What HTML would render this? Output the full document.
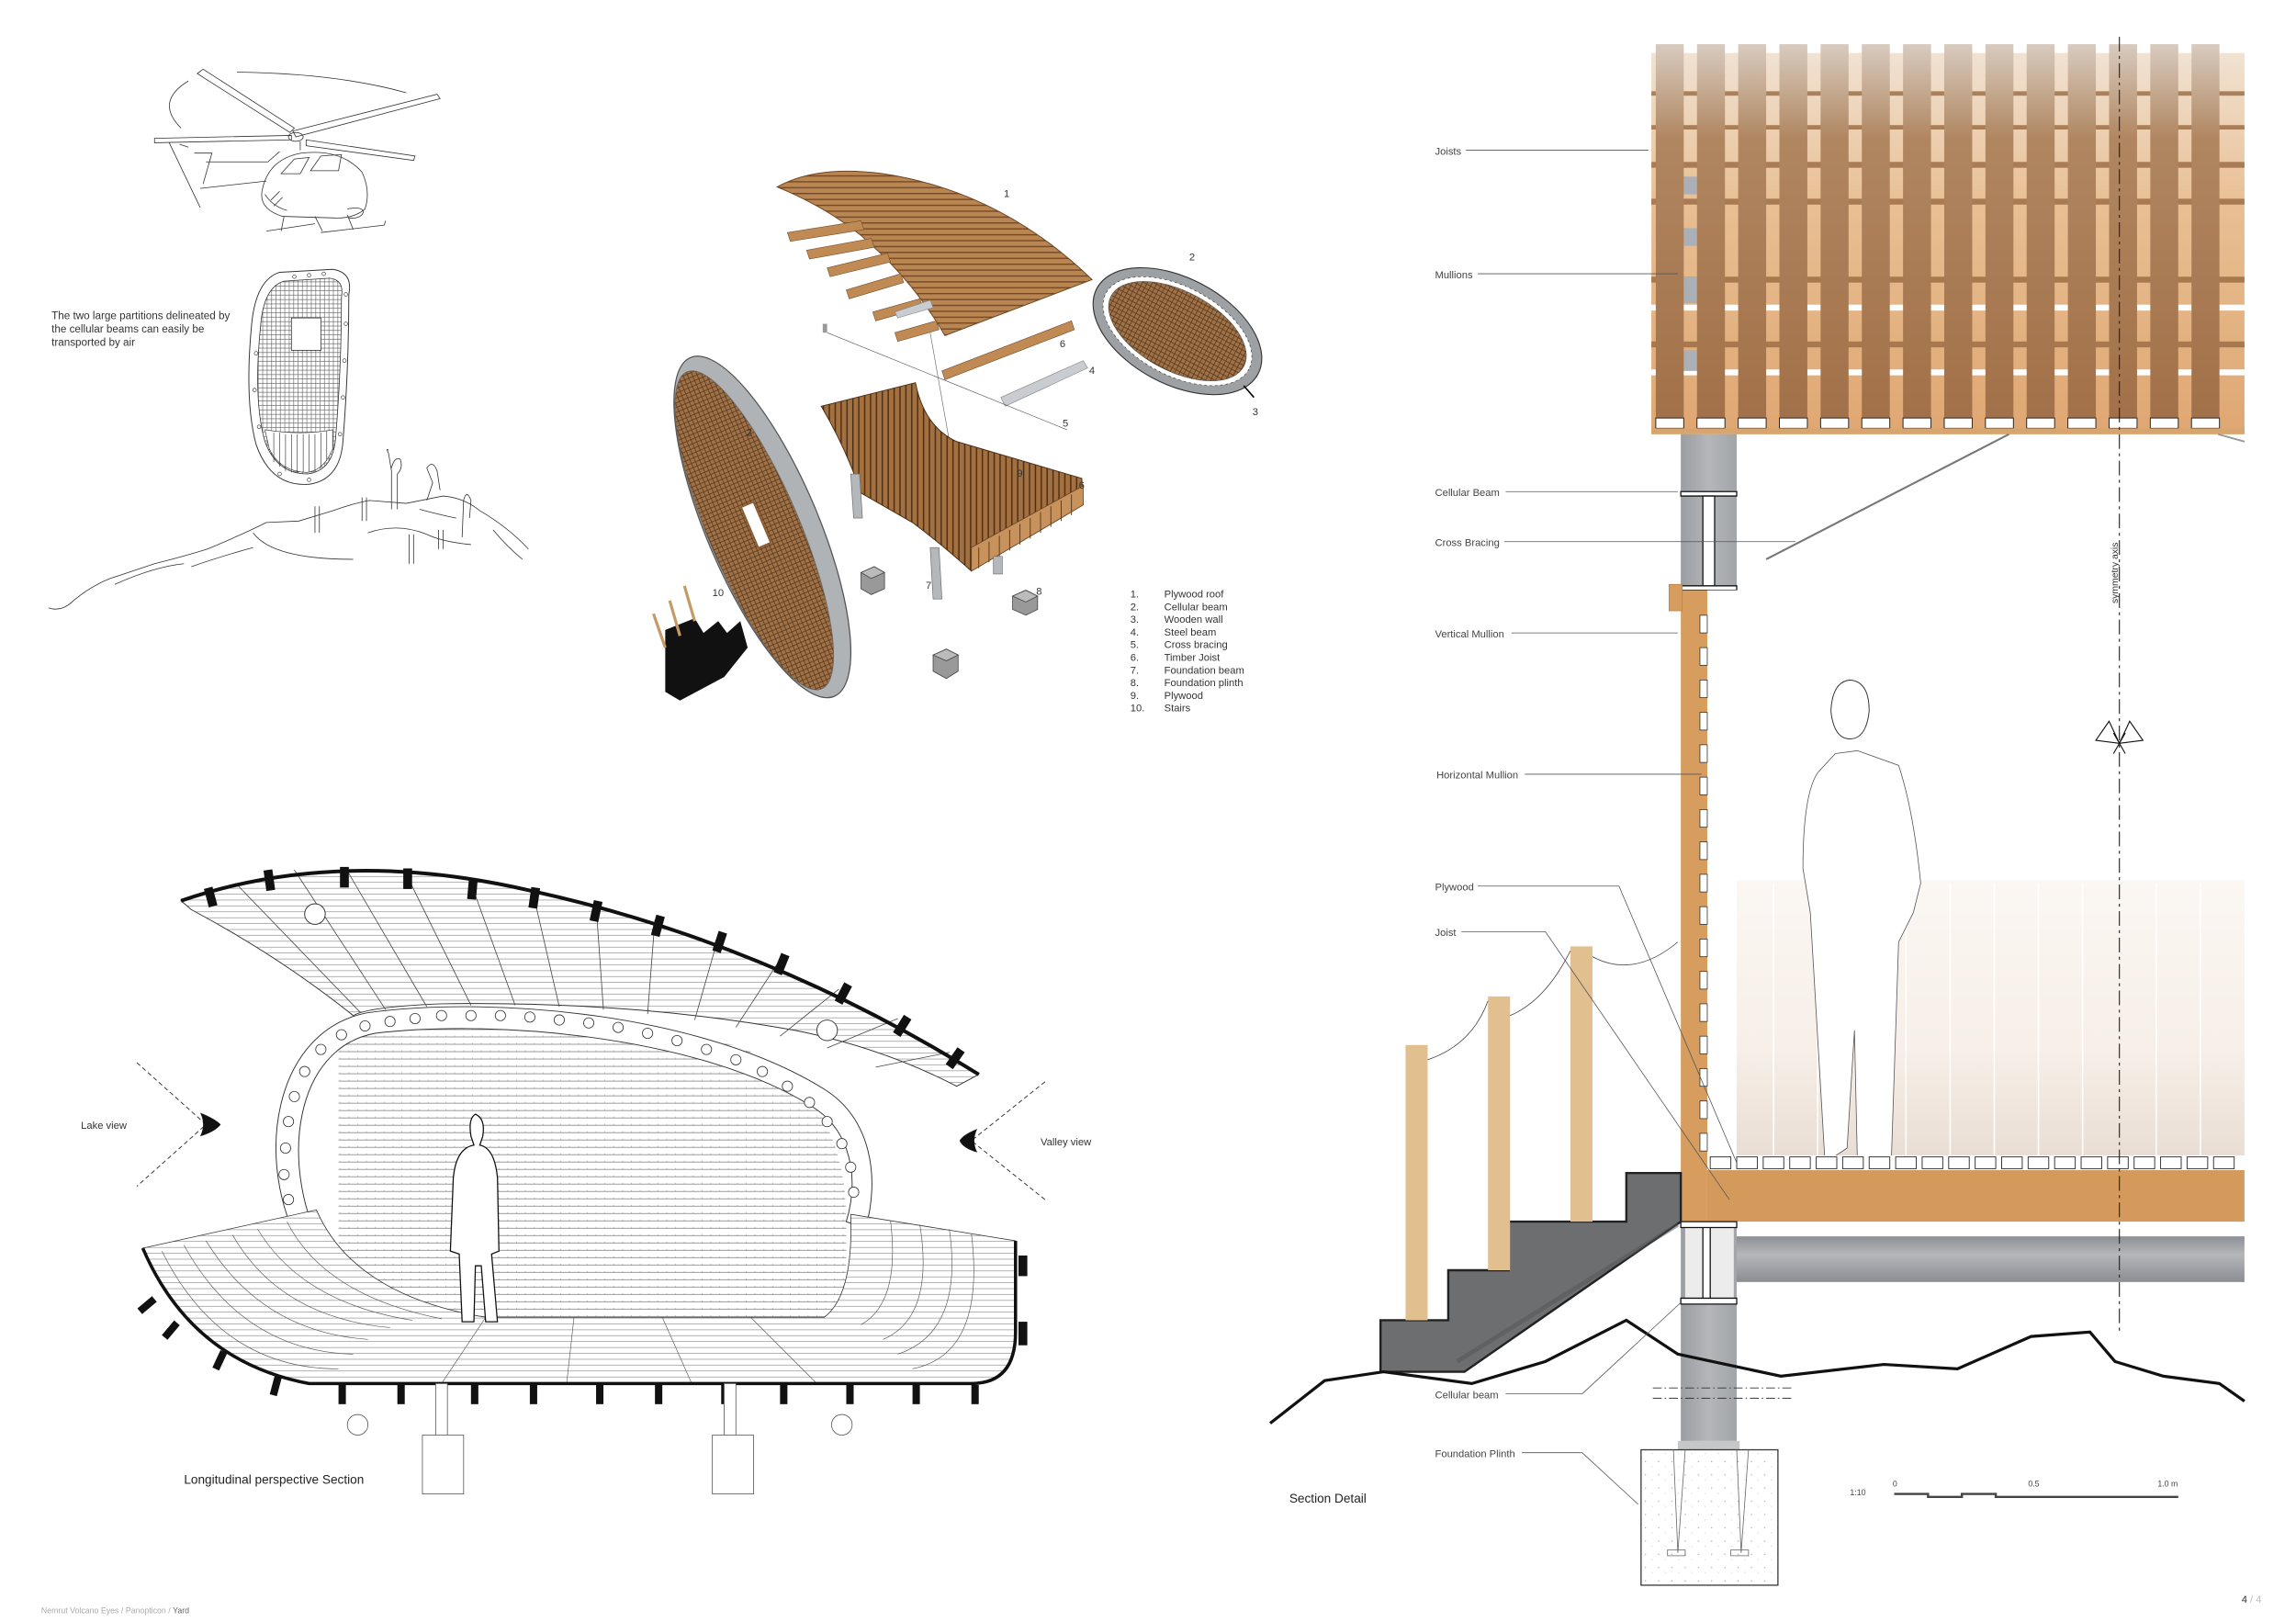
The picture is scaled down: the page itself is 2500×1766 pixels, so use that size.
<!DOCTYPE html>
<html><head><meta charset="utf-8"><style>
html,body{margin:0;padding:0;background:#fff;}
svg{display:block;}
text{font-family:"Liberation Sans",sans-serif;}
</style></head><body>
<svg width="2500" height="1766" viewBox="0 0 1560 1102" preserveAspectRatio="none" xmlns="http://www.w3.org/2000/svg">
<defs>
<linearGradient id="slat" x1="0" y1="0" x2="0" y2="1"><stop offset="0" stop-color="#d8cbbf"/><stop offset="0.25" stop-color="#b08660"/><stop offset="1" stop-color="#a27048"/></linearGradient>
<linearGradient id="panel" x1="0" y1="0" x2="0" y2="1"><stop offset="0" stop-color="#f1e2d2"/><stop offset="0.4" stop-color="#e8bf93"/><stop offset="1" stop-color="#dfa772"/></linearGradient>
<linearGradient id="fade" x1="0" y1="0" x2="0" y2="1"><stop offset="0" stop-color="#fbf7f3"/><stop offset="0.6" stop-color="#f7efe8"/><stop offset="1" stop-color="#e9ddd3"/></linearGradient>
<linearGradient id="steel" x1="0" y1="0" x2="0" y2="1"><stop offset="0" stop-color="#8c8f93"/><stop offset="0.4" stop-color="#b5b7ba"/><stop offset="1" stop-color="#8a8d91"/></linearGradient>
<linearGradient id="col" x1="0" y1="0" x2="1" y2="0"><stop offset="0" stop-color="#9a9da1"/><stop offset="0.5" stop-color="#b4b6b9"/><stop offset="1" stop-color="#a2a5a8"/></linearGradient>
<pattern id="hl" width="6" height="5" patternUnits="userSpaceOnUse"><rect width="6" height="5" fill="#fff"/><line x1="0" y1="4.5" x2="6" y2="4.5" stroke="#666" stroke-width="0.4"/><line x1="3" y1="3.5" x2="3" y2="4.5" stroke="#888" stroke-width="0.3"/></pattern>
<pattern id="rl" width="8" height="4" patternUnits="userSpaceOnUse"><rect width="8" height="4" fill="#fff"/><line x1="0" y1="3.5" x2="8" y2="3.5" stroke="#777" stroke-width="0.35"/></pattern>
<pattern id="wood" width="4" height="4" patternUnits="userSpaceOnUse"><rect width="4" height="4" fill="#b98551"/><line x1="0" y1="3.5" x2="4" y2="3.5" stroke="#6e4524" stroke-width="0.8"/></pattern>
<pattern id="woodv" width="4" height="4" patternUnits="userSpaceOnUse"><rect width="4" height="4" fill="#a3703f"/><line x1="3.5" y1="0" x2="3.5" y2="4" stroke="#4a2d15" stroke-width="0.9"/></pattern>
<pattern id="grid" width="3" height="3" patternUnits="userSpaceOnUse"><rect width="3" height="3" fill="#fff"/><path d="M0 2.5H3M1.5 0V3" stroke="#555" stroke-width="0.35"/></pattern>
<pattern id="brg" width="3" height="3" patternUnits="userSpaceOnUse"><rect width="3" height="3" fill="#a07248"/><path d="M0 2.5H3M1.5 0V3" stroke="#5a3a1e" stroke-width="0.5"/></pattern>
<pattern id="dots" width="9" height="9" patternUnits="userSpaceOnUse"><rect width="9" height="9" fill="#fff"/><circle cx="2" cy="3" r="0.4" fill="#999"/><path d="M6 6l1 1" stroke="#aaa" stroke-width="0.3"/></pattern>
</defs>

<!-- ============ HELICOPTER SKETCH ============ -->
<g fill="none" stroke="#333" stroke-width="0.5">
<path d="M128 55 Q105 69 123 87"/><path d="M161 49 Q230 50 276 63"/>
<path d="M134 50 L138 47 L200 87 L197 90Z"/>
<path d="M199 89 L297 64 L299 67 L201 93Z"/>
<path d="M208 95 L282 106 L281 109 L208 99Z"/>
<path d="M105 94 L198 92 L198 95 L105 97Z"/>
<ellipse cx="201" cy="93" rx="5" ry="3"/>
<path d="M204 96 L204 102"/>
<path d="M115 97 L136 141 M122 98 L128 100 M132 104 L144 104 L138 125 M136 128 L181 123 M140 110 L182 110 L190 103"/>
<path d="M178 130 Q182 108 205 104 Q232 101 246 117 Q252 130 248 142 Q240 149 225 148 L192 147 Q176 142 178 130Z"/>
<path d="M191 118 L200 108 L210 107 L204 118Z M211 116 L218 106 L232 105 L230 116Z"/>
<path d="M181 157 L214 152 M218 158 L261 153 L262 150 M193 147 L191 157 M214 147 L219 157 M236 146 L240 156"/>
<path d="M236 142 Q246 140 247 144 Q245 149 237 148"/>
<path d="M180 132 Q185 140 195 143 M184 136 L190 130 M186 140 L192 134"/>
</g>
<!-- partition -->
<path d="M237 200 Q240 185 226 183 L190 185 Q174 190 171 220 Q166 272 174 302 Q184 331 210 329 Q231 326 233 300 Q237 250 237 200Z" fill="#fff" stroke="#333" stroke-width="0.6"/>
<path d="M232 202 Q234 190 224 189 L193 191 Q179 195 177 222 Q172 272 180 300 Q188 322 209 322 Q226 320 228 298 Q232 250 232 202Z" fill="url(#grid)" stroke="#333" stroke-width="0.5"/>
<g fill="none" stroke="#333" stroke-width="0.4"><circle cx="200" cy="188" r="1.2"/><circle cx="210" cy="187" r="1.2"/><circle cx="220" cy="186" r="1.2"/><circle cx="235" cy="200" r="1.2"/><circle cx="235" cy="220" r="1.2"/><circle cx="234" cy="245" r="1.2"/><circle cx="233" cy="270" r="1.2"/><circle cx="231" cy="295" r="1.2"/><circle cx="174" cy="240" r="1.2"/><circle cx="173" cy="265" r="1.2"/><circle cx="176" cy="290" r="1.2"/><circle cx="190" cy="322" r="1.2"/><circle cx="210" cy="326" r="1.2"/></g>
<rect x="198" y="216" width="20" height="22" fill="#fff" stroke="#333" stroke-width="0.5"/>
<path d="M180 292 Q205 296 226 292 L226 305 Q220 320 208 321 Q190 320 183 305Z" fill="#fff" stroke="#333" stroke-width="0.4"/>
<path d="M186 294v20M190 294v23M194 295v25M198 295v26M202 295v26M206 295v26M210 295v26M214 295v25M218 294v23M222 293v20" stroke="#333" stroke-width="0.4"/>
<text x="35" y="217" font-size="7.3" fill="#333">The two large partitions delineated by</text>
<text x="35" y="226" font-size="7.3" fill="#333">the cellular beams can easily be</text>
<text x="35" y="235" font-size="7.3" fill="#333">transported by air</text>
<!-- hill -->
<g fill="none" stroke="#333" stroke-width="0.5">
<path d="M33 413 Q42 416 50 408 Q62 398 75 393 Q90 388 105 383 Q125 378 141 373 Q165 363 181 355 L203 354 L226 347 Q240 342 251 340 L276 342 L301 337 Q315 338 326 347 Q345 358 359 373"/>
<path d="M78 397 Q105 385 125 383 M130 385 Q150 378 172 372 M172 362 Q185 380 240 380 M250 362 Q270 355 290 363 Q300 368 320 370 M285 346 Q300 350 310 352 M335 360 Q345 372 355 380"/>
<path d="M214 344 L214 362 M217 344 L217 362 M246 338 L246 354 M249 338 L249 354 M278 363 L278 383 M281 363 L281 383 M298 360 L298 373 M301 360 L301 373"/>
<path d="M266 346 L266 320 L264 308 Q262 304 264 306 M270 346 L270 322 Q274 318 272 312 Q268 310 266 318"/>
<path d="M290 340 L294 328 L290 318 Q294 312 297 320 L299 333"/>
<path d="M314 365 L315 340 Q317 332 320 340 L319 352"/>
</g>

<!-- ============ EXPLODED AXON ============ -->
<path d="M528 127 Q555 112 600 118 Q680 130 742 190 L642 228 Q620 190 585 160 Q560 140 528 127Z" fill="url(#wood)" stroke="#6e4524" stroke-width="0.6"/>
<g fill="#c08a55" stroke="#7a5230" stroke-width="0.4">
<path d="M535 158 L585 150 L587 156 L537 164Z"/><path d="M548 170 L592 162 L594 168 L550 176Z"/>
<path d="M562 182 L603 172 L605 178 L564 188Z"/><path d="M575 197 L612 186 L614 192 L577 203Z"/>
<path d="M593 212 L625 203 L627 209 L595 218Z"/><path d="M608 226 L636 218 L638 224 L610 232Z"/>
<path d="M640 252 L728 218 L730 224 L642 258Z"/>
</g>
<path d="M608 212 L632 204 L634 209 L610 216Z" fill="#c9ccd0" stroke="#888" stroke-width="0.4"/>
<path d="M680 270 L736 245 L739 250 L683 276Z" fill="#c9ccd0" stroke="#888" stroke-width="0.4"/>
<line x1="562" y1="226" x2="725" y2="292" stroke="#555" stroke-width="0.4"/>
<line x1="632" y1="226" x2="650" y2="328" stroke="#666" stroke-width="0.4"/>
<rect x="559" y="220" width="3" height="6" fill="#999"/>
<g transform="rotate(28 800 225)">
<ellipse cx="800" cy="225" rx="62" ry="36" fill="#9ea1a4" stroke="#333" stroke-width="0.7"/>
<ellipse cx="800" cy="225" rx="55" ry="30" fill="#fff" stroke="#333" stroke-width="0.4" stroke-dasharray="1.6 2"/>
<ellipse cx="800" cy="225" rx="51" ry="27" fill="url(#brg)" stroke="#555" stroke-width="0.4"/>
</g>
<path d="M845 262 L852 270" stroke="#000" stroke-width="1"/>
<g transform="rotate(-23 518 358)">
<ellipse cx="518" cy="358" rx="38" ry="125" fill="#b0b3b6" stroke="#555" stroke-width="0.8"/>
<ellipse cx="512" cy="358" rx="31" ry="117" fill="url(#brg)" stroke="#666" stroke-width="0.5"/>
<rect x="510" y="340" width="9" height="30" fill="#fff" stroke="#8a5b2f" stroke-width="1"/>
</g>
<path d="M558 276 L622 260 Q628 290 650 300 L735 325 L736 343 L660 388 Q640 370 620 355 L585 335 Q575 305 558 276Z" fill="url(#woodv)" stroke="#4a2d15" stroke-width="0.6"/>
<path d="M660 372 L736 330 L736 343 L660 388Z" fill="#c8925c" stroke="#6e4524" stroke-width="0.5"/>
<path d="M665 372v14M672 368v14M679 364v14M686 360v14M693 356v14M700 352v14M707 348v14M714 344v14M721 340v14M728 336v14" stroke="#5a3a1e" stroke-width="0.6"/>
<g fill="#b5b8bb" stroke="#666" stroke-width="0.4">
<path d="M578 322 L584 322 L586 352 L580 352Z"/><path d="M632 372 L638 372 L640 407 L634 407Z"/><path d="M675 378 L681 378 L681 390 L675 390Z"/>
</g>
<g stroke="#444" stroke-width="0.5">
<path d="M585 389 L594 385 L601 389 L601 400 L592 404 L585 400Z" fill="#999"/><path d="M585 389 L594 385 L601 389 L592 393Z" fill="#bbb"/>
<path d="M688 405 L697 401 L705 405 L705 414 L697 418 L688 414Z" fill="#999"/><path d="M688 405 L697 401 L705 405 L697 409Z" fill="#bbb"/>
<path d="M634 445 L643 441 L651 445 L651 456 L643 461 L634 456Z" fill="#999"/><path d="M634 445 L643 441 L651 445 L643 449Z" fill="#bbb"/>
</g>
<path d="M452 428 L472 420 L478 430 L488 422 L494 430 L503 422 L508 440 L492 460 L462 476 L452 470Z" fill="#111"/>
<g stroke="#c49a66" stroke-width="2"><line x1="444" y1="417" x2="452" y2="440"/><line x1="455" y1="408" x2="462" y2="432"/><line x1="465" y1="398" x2="472" y2="422"/></g>
<g font-size="7" fill="#333">
<text x="682" y="134">1</text><text x="808" y="177">2</text><text x="720" y="236">6</text><text x="740" y="254">4</text>
<text x="722" y="290">5</text><text x="851" y="282">3</text><text x="507" y="296">2</text><text x="691" y="324">9</text>
<text x="733" y="332">6</text><text x="484" y="405">10</text><text x="629" y="400">7</text><text x="704" y="404">8</text>
</g>
<g font-size="7" fill="#333">
<text x="768" y="406">1.</text><text x="791" y="406">Plywood roof</text>
<text x="768" y="414.6">2.</text><text x="791" y="414.6">Cellular beam</text>
<text x="768" y="423.2">3.</text><text x="791" y="423.2">Wooden wall</text>
<text x="768" y="431.8">4.</text><text x="791" y="431.8">Steel beam</text>
<text x="768" y="440.4">5.</text><text x="791" y="440.4">Cross bracing</text>
<text x="768" y="449">6.</text><text x="791" y="449">Timber Joist</text>
<text x="768" y="457.6">7.</text><text x="791" y="457.6">Foundation beam</text>
<text x="768" y="466.2">8.</text><text x="791" y="466.2">Foundation plinth</text>
<text x="768" y="474.8">9.</text><text x="791" y="474.8">Plywood</text>
<text x="768" y="483.4">10.</text><text x="791" y="483.4">Stairs</text>
</g>

<!-- ============ LONGITUDINAL SECTION ============ -->
<path d="M230 700 Q350 690 500 710 Q575 740 575 830 L575 895 L230 895Z" fill="url(#hl)"/>
<path d="M123 612 Q230 575 360 605 Q520 640 665 730 L650 738 Q600 712 540 700 Q430 680 300 682 Q250 684 240 690 Q190 650 130 618Z" fill="url(#rl)" stroke="#333" stroke-width="0.6"/>
<g stroke="#444" stroke-width="0.5">
<line x1="160" y1="600" x2="245" y2="688"/><line x1="200" y1="591" x2="262" y2="686"/><line x1="235" y1="590" x2="290" y2="684"/>
<line x1="275" y1="592" x2="320" y2="683"/><line x1="320" y1="600" x2="350" y2="683"/><line x1="362" y1="606" x2="380" y2="684"/>
<line x1="405" y1="615" x2="410" y2="686"/><line x1="445" y1="625" x2="440" y2="689"/><line x1="488" y1="637" x2="472" y2="693"/>
<line x1="530" y1="652" x2="500" y2="698"/><line x1="570" y1="672" x2="530" y2="704"/><line x1="610" y1="692" x2="562" y2="712"/><line x1="645" y1="715" x2="595" y2="725"/>
</g>
<path d="M123 612 Q230 575 360 605 Q520 640 665 730" fill="none" stroke="#111" stroke-width="2.5"/>
<g fill="#111">
<rect x="140" y="603" width="6" height="13" transform="rotate(-15 143 609)"/><rect x="180" y="591" width="6" height="14" transform="rotate(-8 183 598)"/>
<rect x="231" y="589" width="6" height="14"/><rect x="274" y="590" width="6" height="14"/><rect x="318" y="597" width="6" height="14" transform="rotate(5 321 604)"/>
<rect x="360" y="603" width="6" height="14" transform="rotate(8 363 610)"/><rect x="402" y="612" width="6" height="14" transform="rotate(12 405 619)"/>
<rect x="444" y="622" width="6" height="14" transform="rotate(15 447 629)"/><rect x="486" y="633" width="6" height="14" transform="rotate(18 489 640)"/>
<rect x="528" y="648" width="6" height="14" transform="rotate(22 531 655)"/><rect x="570" y="668" width="6" height="14" transform="rotate(28 573 675)"/>
<rect x="610" y="690" width="6" height="14" transform="rotate(32 613 697)"/><rect x="646" y="712" width="6" height="14" transform="rotate(35 649 719)"/>
</g>
<circle cx="214" cy="621" r="7" fill="#fff" stroke="#333" stroke-width="0.6"/><circle cx="562" cy="700" r="7" fill="#fff" stroke="#333" stroke-width="0.6"/>
<path d="M205 848 C172 790 185 700 250 688 C340 676 480 690 560 740 C592 760 598 800 588 835 L575 830 C584 800 578 768 552 752 C478 705 340 692 255 702 C200 712 190 790 218 846Z" fill="#fff" stroke="#333" stroke-width="0.6"/>
<g fill="#fff" stroke="#333" stroke-width="0.5">
<circle cx="194" cy="780" r="3.5"/><circle cx="193" cy="798" r="3.5"/><circle cx="196" cy="762" r="3.5"/><circle cx="200" cy="745" r="3.5"/><circle cx="207" cy="728" r="3.5"/>
<circle cx="218" cy="713" r="3.5"/><circle cx="232" cy="703" r="3.5"/><circle cx="248" cy="697" r="3.5"/><circle cx="265" cy="694" r="3.5"/><circle cx="282" cy="692" r="3.5"/>
<circle cx="300" cy="690" r="3.5"/><circle cx="320" cy="690" r="3.5"/><circle cx="340" cy="690" r="3.5"/><circle cx="360" cy="691" r="3.5"/><circle cx="380" cy="693" r="3.5"/>
<circle cx="400" cy="695" r="3.5"/><circle cx="420" cy="698" r="3.5"/><circle cx="440" cy="702" r="3.5"/><circle cx="460" cy="707" r="3.5"/><circle cx="480" cy="713" r="3.5"/>
<circle cx="500" cy="720" r="3.5"/><circle cx="518" cy="728" r="3.5"/><circle cx="535" cy="738" r="3.5"/><circle cx="550" cy="749" r="3.5"/><circle cx="562" cy="762" r="3.5"/>
<circle cx="572" cy="777" r="3.5"/><circle cx="578" cy="793" r="3.5"/><circle cx="580" cy="810" r="3.5"/><circle cx="196" cy="815" r="3.5"/>
</g>
<path d="M97 848 L215 822 Q240 880 330 895 L560 895 Q580 880 578 825 L690 843 L690 905 Q690 940 660 940 L210 940 Q130 925 97 848Z" fill="url(#rl)" stroke="#333" stroke-width="0.5"/>
<g stroke="#555" stroke-width="0.4" fill="none">
<path d="M110 850 Q150 930 230 930 M125 846 Q165 918 240 920 M140 843 Q178 905 250 910 M158 839 Q190 895 265 902 M175 835 Q205 885 280 897 M195 830 Q220 880 300 896"/>
<path d="M660 838 Q670 920 620 930 M645 835 Q655 905 610 920 M625 832 Q635 895 600 910 M605 829 Q612 885 585 900"/>
<line x1="330" y1="895" x2="300" y2="940"/><line x1="390" y1="895" x2="385" y2="940"/><line x1="450" y1="895" x2="470" y2="940"/><line x1="510" y1="895" x2="555" y2="940"/>
</g>
<path d="M97 848 Q130 925 210 940 L660 940 Q690 940 690 905 L690 843" fill="none" stroke="#111" stroke-width="2.2"/>
<g fill="#111">
<rect x="98" y="880" width="5" height="13" transform="rotate(50 100 886)"/><rect x="114" y="897" width="5" height="13" transform="rotate(40 116 903)"/>
<rect x="147" y="918" width="5" height="13" transform="rotate(25 150 924)"/><rect x="185" y="935" width="5" height="13" transform="rotate(15 187 941)"/>
<rect x="230" y="941" width="5" height="13"/><rect x="270" y="941" width="5" height="13"/><rect x="320" y="941" width="5" height="13"/><rect x="360" y="941" width="5" height="13"/>
<rect x="405" y="941" width="5" height="13"/><rect x="445" y="941" width="5" height="13"/><rect x="490" y="941" width="5" height="13"/><rect x="530" y="941" width="5" height="13"/>
<rect x="575" y="941" width="5" height="13"/><rect x="620" y="941" width="5" height="13"/><rect x="660" y="941" width="5" height="13"/>
<rect x="692" y="853" width="6" height="14"/><rect x="692" y="898" width="6" height="16"/>
</g>
<path d="M323 757 Q318 760 320 772 L322 778 Q310 780 308 800 L306 850 L312 852 L314 898 L322 898 L323 860 L327 860 L330 898 L338 898 L334 852 L339 850 L338 800 Q336 780 326 778 L328 772 Q330 760 323 757Z" fill="#fff" stroke="#111" stroke-width="0.8"/>
<g fill="#fff" stroke="#555" stroke-width="0.5">
<rect x="296" y="940" width="8" height="36"/><rect x="287" y="975" width="28" height="40"/>
<rect x="492" y="940" width="8" height="36"/><rect x="484" y="975" width="28" height="40"/>
<circle cx="243" cy="968" r="7"/><circle cx="572" cy="968" r="7"/>
</g>
<g fill="none" stroke="#333" stroke-width="0.6" stroke-dasharray="3 2">
<path d="M93 722 L140 764 L93 806"/><path d="M710 735 L660 775 L710 815"/>
</g>
<path d="M136 756 Q146 760 150 764 Q146 769 136 772 Q140 764 136 756Z" fill="#111"/>
<path d="M664 767 Q654 771 652 775 Q654 780 664 783 Q660 775 664 767Z" fill="#111"/>
<text x="55" y="767" font-size="7" fill="#333">Lake view</text>
<text x="707" y="778" font-size="7" fill="#333">Valley view</text>
<text x="125" y="1008" font-size="8.5" fill="#222">Longitudinal perspective Section</text>

<!-- ============ SECTION DETAIL ============ -->
<rect x="1122" y="36" width="403" height="259" fill="url(#panel)"/>
<g fill="#9a6a42" opacity="0.8">
<rect x="1122" y="62" width="403" height="3"/><rect x="1122" y="85" width="403" height="3"/><rect x="1122" y="110" width="403" height="4"/>
<rect x="1122" y="135" width="403" height="4"/><rect x="1122" y="188" width="403" height="4"/><rect x="1122" y="232" width="403" height="4"/>
</g>
<rect x="1122" y="207" width="403" height="4" fill="#fff"/><rect x="1122" y="251" width="403" height="4" fill="#fff"/>
<rect x="1142" y="120" width="16" height="12" fill="#aab0b5"/><rect x="1142" y="155" width="16" height="12" fill="#aab0b5"/><rect x="1142" y="188" width="16" height="18" fill="#aab0b5"/><rect x="1142" y="238" width="16" height="14" fill="#aab0b5"/>
<g fill="url(#slat)">
<rect x="1125" y="30" width="19" height="258"/><rect x="1153" y="30" width="19" height="258"/><rect x="1181" y="30" width="19" height="258"/>
<rect x="1209" y="30" width="19" height="258"/><rect x="1237" y="30" width="19" height="258"/><rect x="1265" y="30" width="19" height="258"/>
<rect x="1293" y="30" width="19" height="258"/><rect x="1321" y="30" width="19" height="258"/><rect x="1349" y="30" width="19" height="258"/>
<rect x="1377" y="30" width="19" height="258"/><rect x="1405" y="30" width="19" height="258"/><rect x="1433" y="30" width="19" height="258"/>
<rect x="1461" y="30" width="19" height="258"/><rect x="1489" y="30" width="19" height="258"/>
</g>
<g fill="#fff" stroke="#222" stroke-width="0.6">
<rect x="1125" y="284" width="19" height="7"/><rect x="1153" y="284" width="19" height="7"/><rect x="1181" y="284" width="19" height="7"/>
<rect x="1209" y="284" width="19" height="7"/><rect x="1237" y="284" width="19" height="7"/><rect x="1265" y="284" width="19" height="7"/>
<rect x="1293" y="284" width="19" height="7"/><rect x="1321" y="284" width="19" height="7"/><rect x="1349" y="284" width="19" height="7"/>
<rect x="1377" y="284" width="19" height="7"/><rect x="1405" y="284" width="19" height="7"/><rect x="1433" y="284" width="19" height="7"/>
<rect x="1461" y="284" width="19" height="7"/><rect x="1489" y="284" width="19" height="7"/>
</g>
<rect x="1122" y="291" width="403" height="4" fill="#d9a56f"/>
<rect x="1142" y="295" width="38" height="105" fill="url(#col)"/>
<path d="M1142 334h38v3h-38z M1142 398h38v3h-38z" fill="#fff" stroke="#111" stroke-width="0.8"/>
<path d="M1157 337h8v61h-8z" fill="#fff" stroke="#111" stroke-width="0.8"/>
<line x1="1365" y1="295" x2="1200" y2="380" stroke="#777" stroke-width="1.3"/>
<line x1="1507" y1="295" x2="1525" y2="300" stroke="#999" stroke-width="1.2"/>
<rect x="1160" y="401" width="365" height="385" fill="#fff"/>
<rect x="1180" y="598" width="345" height="190" fill="url(#fade)"/>
<g stroke="#fff" stroke-width="1"><line x1="1205" y1="600" x2="1205" y2="786"/><line x1="1235" y1="600" x2="1235" y2="786"/><line x1="1265" y1="600" x2="1265" y2="786"/><line x1="1295" y1="600" x2="1295" y2="786"/><line x1="1325" y1="600" x2="1325" y2="786"/><line x1="1355" y1="600" x2="1355" y2="786"/><line x1="1385" y1="600" x2="1385" y2="786"/><line x1="1415" y1="600" x2="1415" y2="786"/><line x1="1465" y1="600" x2="1465" y2="786"/><line x1="1495" y1="600" x2="1495" y2="786"/></g>
<rect x="1142" y="401" width="18" height="430" fill="#d79d5e"/>
<rect x="1134" y="397" width="9" height="18" fill="#d79d5e" stroke="#b07a44" stroke-width="0.4"/>
<g fill="#fff" stroke="#333" stroke-width="0.5">
<rect x="1155" y="418" width="5" height="12"/><rect x="1155" y="440" width="5" height="12"/><rect x="1155" y="462" width="5" height="12"/><rect x="1155" y="484" width="5" height="12"/>
<rect x="1155" y="506" width="5" height="12"/><rect x="1155" y="528" width="5" height="12"/><rect x="1155" y="550" width="5" height="12"/><rect x="1155" y="572" width="5" height="12"/>
<rect x="1155" y="594" width="5" height="12"/><rect x="1155" y="616" width="5" height="12"/><rect x="1155" y="638" width="5" height="12"/><rect x="1155" y="660" width="5" height="12"/>
<rect x="1155" y="682" width="5" height="12"/><rect x="1155" y="704" width="5" height="12"/><rect x="1155" y="726" width="5" height="12"/><rect x="1155" y="748" width="5" height="12"/><rect x="1155" y="770" width="5" height="12"/>
</g>
<path d="M1244 483 Q1245 463 1257 462 Q1270 463 1270 483 Q1268 502 1257 502 Q1246 502 1244 483Z" fill="#fff" stroke="#333" stroke-width="0.6"/>
<path d="M1247 512 L1262 510 L1290 520 Q1300 550 1305 600 L1300 620 L1290 640 L1285 790 L1262 790 L1260 700 L1255 780 L1240 790 Q1235 700 1230 620 L1225 590 Q1225 540 1235 525Z" fill="#fff" stroke="#555" stroke-width="0.5"/>
<rect x="1160" y="785" width="365" height="10" fill="#fff"/>
<g fill="#fff" stroke="#333" stroke-width="0.6">
<rect x="1162" y="786" width="14" height="8"/><rect x="1180" y="786" width="14" height="8"/><rect x="1198" y="786" width="14" height="8"/><rect x="1216" y="786" width="14" height="8"/><rect x="1234" y="786" width="14" height="8"/><rect x="1252" y="786" width="14" height="8"/><rect x="1270" y="786" width="14" height="8"/><rect x="1288" y="786" width="14" height="8"/><rect x="1306" y="786" width="14" height="8"/><rect x="1324" y="786" width="14" height="8"/><rect x="1342" y="786" width="14" height="8"/><rect x="1360" y="786" width="14" height="8"/><rect x="1378" y="786" width="14" height="8"/><rect x="1396" y="786" width="14" height="8"/><rect x="1414" y="786" width="14" height="8"/><rect x="1432" y="786" width="14" height="8"/><rect x="1450" y="786" width="14" height="8"/><rect x="1468" y="786" width="14" height="8"/><rect x="1486" y="786" width="14" height="8"/><rect x="1504" y="786" width="14" height="8"/>
</g>
<rect x="1160" y="795" width="365" height="35" fill="#d49a5c"/>
<rect x="1165" y="840" width="360" height="31" fill="url(#steel)"/>
<rect x="1142" y="831" width="38" height="148" fill="url(#col)"/>
<rect x="1145" y="831" width="33" height="55" fill="#ececec"/>
<path d="M1142 830h38v4h-38z M1142 882h38v4h-38z M1157 834h5v48h-5z" fill="#fff" stroke="#111" stroke-width="0.8"/>
<g stroke="#333" stroke-width="0.6" stroke-dasharray="6 2 1 2"><line x1="1123" y1="943" x2="1218" y2="943"/><line x1="1123" y1="950" x2="1218" y2="950"/></g>
<rect x="1140" y="979" width="42" height="6" fill="#c5c7c9"/>
<rect x="1115" y="985" width="93" height="92" fill="url(#dots)" stroke="#333" stroke-width="0.8"/>
<g stroke="#666" stroke-width="0.5" fill="none"><path d="M1137 985 L1140 1055 L1145 985 M1180 985 L1183 1055 L1188 985"/><path d="M1133 1053h12v4h-12z M1176 1053h12v4h-12z"/></g>
<path d="M938 932 L938 897 L984 897 L984 863 L1025 863 L1025 830 L1105 830 L1105 797 L1142 797 L1142 830 L995 932Z" fill="#6d6e70" stroke="#222" stroke-width="1.5"/>
<path d="M990 925 L1140 832" stroke="#555" stroke-width="3" opacity="0.5"/>
<rect x="955" y="710" width="15" height="187" fill="#e1bf8f"/>
<rect x="1011" y="677" width="15" height="186" fill="#e1bf8f"/>
<rect x="1067" y="643" width="15" height="187" fill="#e1bf8f"/>
<g fill="none" stroke="#444" stroke-width="0.5">
<path d="M970 720 Q1000 710 1011 680"/><path d="M1026 690 Q1050 680 1067 646"/><path d="M1082 650 Q1110 665 1140 640"/>
</g>
<polyline points="863,967 900,938 940,932 1000,940 1050,925 1105,897 1140,920 1210,935 1280,927 1330,930 1380,908 1420,905 1437,925 1470,935 1508,940 1525,952" fill="none" stroke="#111" stroke-width="2"/>
<line x1="1440" y1="25" x2="1440" y2="905" stroke="#222" stroke-width="0.7" stroke-dasharray="10 3 2 3"/>
<text transform="translate(1439 410) rotate(-90)" font-size="6.5" fill="#333">symmetry axis</text>
<path d="M1440 505 L1424 503 L1433 490Z M1440 505 L1456 503 L1447 490Z M1436 512 L1444 498 M1444 512 L1436 498" fill="#fff" stroke="#111" stroke-width="0.7"/>
<g font-size="7" fill="#444">
<text x="975" y="105">Joists</text><text x="975" y="189">Mullions</text><text x="975" y="337">Cellular Beam</text><text x="975" y="371">Cross Bracing</text>
<text x="975" y="433">Vertical Mullion</text><text x="976" y="529">Horizontal Mullion</text><text x="975" y="605">Plywood</text><text x="975" y="636">Joist</text>
<text x="975" y="950">Cellular beam</text><text x="975" y="990">Foundation Plinth</text>
</g>
<g fill="none" stroke="#555" stroke-width="0.5">
<path d="M996 102 H1120"/><path d="M1004 186 H1140"/><path d="M1023 334 H1140"/><path d="M1022 368 H1220"/><path d="M1027 430 H1140"/><path d="M1036 526 H1156"/>
<path d="M1004 602 H1100 L1180 790"/><path d="M993 633 H1050 L1175 815"/><path d="M1023 947 H1075 L1142 885"/><path d="M1034 987 H1075 L1113 1022"/>
</g>
<text x="876" y="1021" font-size="8.5" fill="#222">Section Detail</text>
<g font-size="5.5" fill="#444"><text x="1257" y="1016">1:10</text><text x="1286" y="1010">0</text><text x="1378" y="1010">0.5</text><text x="1466" y="1010">1.0 m</text></g>
<path d="M1287 1015 H1310 V1017 H1333 V1015 H1356 V1017 H1380 V1017 H1480" fill="none" stroke="#444" stroke-width="1.5"/>
<text x="1523" y="1089" font-size="7" fill="#333">4 <tspan fill="#bbb">/ 4</tspan></text>
<text x="28" y="1096" font-size="5.5" fill="#aaa">Nemrut Volcano Eyes / Panopticon / <tspan fill="#666">Yard</tspan></text>
</svg>
</body></html>
